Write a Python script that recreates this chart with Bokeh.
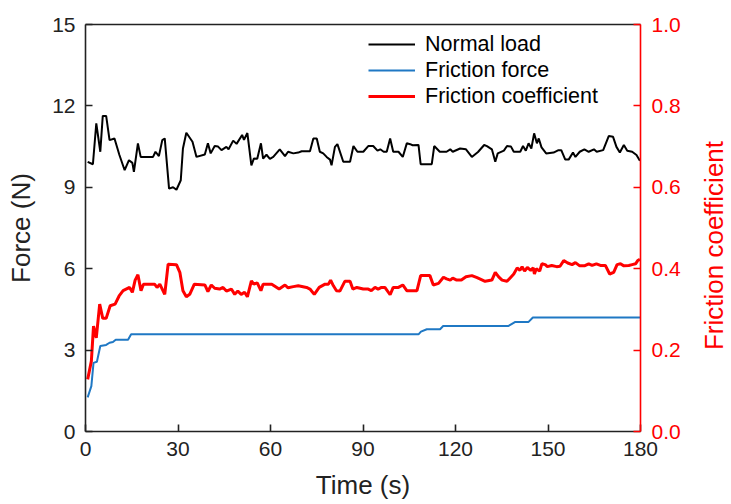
import math
from bokeh.plotting import figure
from bokeh.models import (Range1d, LinearAxis, Legend, LegendItem, FixedTicker,
                          PrintfTickFormatter, Label)
from bokeh.embed import file_html
from bokeh.resources import INLINE

# ---------------- data ----------------
time_ticks = [0, 30, 60, 90, 120, 150, 180]
force_ticks = [0, 3, 6, 9, 12, 15]
coef_ticks = [0.0, 0.2, 0.4, 0.6, 0.8, 1.0]

t_load = [0.7, 2.4, 3.5, 4.8, 5.6, 6.7, 7.8, 9.4, 11.0, 12.7,
          14.1, 15.2, 15.7, 17.0, 17.9, 21.9, 22.7, 23.8, 24.9, 25.7,
          27.1, 28.4, 29.5, 30.9, 31.6, 32.7, 34.7, 36.0, 38.7, 39.7,
          40.6, 41.9, 43.0, 44.1, 45.7, 46.4, 47.9, 49.0, 50.8, 51.4,
          52.5, 53.8, 54.6, 55.7, 56.9, 57.6, 58.7, 59.8, 60.9, 63.0,
          64.7, 65.7, 67.4, 69.0, 70.1, 72.8, 73.9, 75.0, 76.0, 77.1,
          78.2, 79.3, 79.8, 80.9, 81.7, 83.6, 85.8, 86.9, 88.2, 90.1,
          91.7, 93.3, 94.7, 95.6, 96.7, 97.7, 98.8, 99.8, 101.5, 102.9,
          104.2, 105.3, 106.1, 108.0, 108.7, 112.3, 113.1, 114.9, 117.1, 118.3,
          119.1, 121.5, 123.4, 125.3, 127.3, 129.3, 130.2, 131.8, 132.9, 133.7,
          135.7, 136.7, 138.0, 138.9, 141.0, 141.9, 142.8, 143.7, 144.6, 145.5,
          146.4, 147.0, 147.9, 149.4, 151.8, 153.4, 154.3, 155.6, 156.7, 158.1,
          158.9, 160.3, 161.8, 163.2, 164.9, 165.8, 167.9, 169.7, 171.1, 172.2,
          173.3, 174.6, 175.7, 177.3, 178.7, 179.8]
normal_load = [9.94, 9.85, 11.36, 10.31, 11.63, 11.63, 10.74, 10.80, 10.19, 9.63,
               10.0, 9.9, 9.57, 10.62, 10.12, 10.12, 10.31, 10.15, 10.74, 10.80,
               8.95, 9.0, 8.91, 9.26, 10.43, 11.01, 10.68, 10.12, 10.21, 10.62,
               10.25, 10.52, 10.5, 10.37, 10.49, 10.4, 10.72, 10.6, 10.93, 10.75,
               11.0, 9.81, 10.06, 10.05, 10.62, 10.06, 10.2, 10.05, 10.12, 10.4,
               10.15, 10.31, 10.25, 10.28, 10.33, 10.33, 10.8, 10.8, 10.31, 10.25,
               10.12, 10.02, 9.81, 10.49, 10.59, 9.94, 9.94, 10.52, 10.31, 10.31,
               10.52, 10.52, 10.35, 10.4, 10.31, 10.31, 10.8, 10.31, 10.31, 10.12,
               10.62, 10.59, 10.55, 10.56, 9.85, 9.85, 10.52, 10.31, 10.31, 10.4,
               10.31, 10.43, 10.4, 10.12, 10.3, 10.56, 10.52, 10.4, 9.94, 10.25,
               10.35, 10.52, 10.5, 10.31, 10.31, 10.52, 10.35, 10.62, 10.43, 10.99,
               10.62, 10.8, 10.47, 10.25, 10.28, 10.37, 10.37, 10.02, 10.02, 10.28,
               10.12, 10.31, 10.4, 10.31, 10.4, 10.31, 10.37, 10.89, 10.86, 10.49,
               10.28, 10.56, 10.35, 10.31, 10.19, 9.98]

t_friction = [0.7, 1.9, 2.6, 3.7, 4.8, 6.7, 7.8, 8.9, 9.8, 13.8,
              14.8, 108.0, 108.8, 110.7, 115.0, 116.0, 137.2, 139.4, 143.7, 145.1,
              180.0]
friction_force = [1.26, 1.67, 2.53, 2.57, 3.15, 3.19, 3.27, 3.30, 3.38, 3.38,
                  3.58, 3.58, 3.68, 3.77, 3.77, 3.89, 3.89, 4.04, 4.04, 4.20,
                  4.20]

t_coef = [0.7, 1.9, 2.6, 3.5, 4.6, 5.6, 6.7, 8.0, 9.6, 10.9,
          12.2, 14.3, 15.2, 16.1, 17.0, 18.0, 18.8, 22.4, 23.2, 24.1,
          25.7, 26.8, 29.5, 30.6, 31.6, 32.7, 33.8, 35.3, 38.7, 39.7,
          40.8, 41.9, 43.5, 44.6, 45.7, 47.3, 48.4, 49.4, 50.5, 51.6,
          52.5, 53.8, 54.6, 55.7, 56.9, 57.6, 60.4, 62.8, 64.7, 65.7,
          67.4, 69.0, 71.7, 72.8, 74.2, 75.8, 77.7, 78.8, 79.5, 80.4,
          81.4, 82.5, 84.1, 85.8, 86.7, 88.0, 90.1, 91.7, 92.7, 93.9,
          94.9, 96.0, 97.1, 98.8, 99.8, 101.5, 102.9, 104.2, 107.5, 108.7,
          111.7, 112.8, 114.5, 116.1, 117.1, 118.3, 119.1, 120.4, 121.9, 123.4,
          125.3, 127.0, 129.6, 131.8, 132.9, 134.0, 135.1, 136.7, 137.8, 138.9,
          140.0, 140.9, 141.6, 142.4, 143.3, 144.4, 145.2, 145.6, 146.2, 147.3,
          148.0, 149.1, 149.8, 151.2, 152.8, 153.9, 155.1, 156.4, 157.8, 158.9,
          160.3, 161.8, 163.2, 164.3, 165.7, 167.0, 168.6, 170.0, 171.3, 172.4,
          173.5, 174.6, 176.2, 177.3, 178.4, 179.1, 179.8]
friction_coef = [0.128, 0.173, 0.259, 0.230, 0.313, 0.278, 0.278, 0.309, 0.313, 0.333,
                 0.346, 0.354, 0.342, 0.372, 0.385, 0.346, 0.362, 0.362, 0.354, 0.362,
                 0.337, 0.411, 0.410, 0.391, 0.346, 0.331, 0.337, 0.362, 0.360, 0.344,
                 0.360, 0.352, 0.350, 0.354, 0.345, 0.350, 0.337, 0.345, 0.337, 0.342,
                 0.331, 0.370, 0.362, 0.365, 0.346, 0.362, 0.362, 0.350, 0.360, 0.353,
                 0.356, 0.358, 0.354, 0.350, 0.337, 0.354, 0.362, 0.362, 0.372, 0.358,
                 0.346, 0.345, 0.369, 0.369, 0.350, 0.354, 0.350, 0.350, 0.346, 0.354,
                 0.350, 0.354, 0.354, 0.336, 0.354, 0.354, 0.360, 0.346, 0.346, 0.383,
                 0.383, 0.360, 0.364, 0.379, 0.375, 0.372, 0.377, 0.372, 0.372, 0.380,
                 0.383, 0.378, 0.369, 0.372, 0.391, 0.380, 0.372, 0.369, 0.378, 0.387,
                 0.402, 0.396, 0.405, 0.394, 0.403, 0.396, 0.402, 0.387, 0.400, 0.394,
                 0.412, 0.410, 0.405, 0.408, 0.405, 0.406, 0.420, 0.414, 0.410, 0.415,
                 0.407, 0.407, 0.412, 0.408, 0.412, 0.408, 0.408, 0.387, 0.391, 0.410,
                 0.412, 0.407, 0.408, 0.410, 0.412, 0.420, 0.423]

# ---------------- figure ----------------
FONT = "Liberation Sans"
AX = "#222222"
RED = "#ff0000"
BLUE = "#1f78c4"

p = figure(width=731, height=504, output_backend="svg", toolbar_location=None,
           x_range=Range1d(0, 180), y_range=Range1d(0, 15),
           min_border_left=85, min_border_right=91, min_border_top=24,
           min_border_bottom=73)
p.extra_y_ranges = {"mu": Range1d(0, 1)}
p.grid.visible = False
p.outline_line_color = None
p.background_fill_color = "white"
p.border_fill_color = "white"

def style(ax, color, ticks):
    ax.ticker = FixedTicker(ticks=ticks)
    ax.axis_line_color = color
    ax.axis_line_width = 1.6
    ax.major_tick_line_color = color
    ax.major_tick_line_width = 1.6
    ax.major_tick_in = 7
    ax.major_tick_out = 0
    ax.minor_tick_line_color = None
    ax.major_label_text_font = FONT
    ax.major_label_text_font_size = "21px"
    ax.major_label_text_color = color
    ax.axis_label_text_font = FONT
    ax.axis_label_text_font_size = "26px"
    ax.axis_label_text_font_style = "normal"
    ax.axis_label_text_color = color

xa = p.xaxis[0]
style(xa, AX, time_ticks)
xa.axis_label = "Time (s)"
xa.major_label_standoff = 10
xa.axis_label_standoff = 11

ya = p.yaxis[0]
style(ya, AX, force_ticks)
ya.axis_label = "Force (N)"
ya.major_label_standoff = 10
ya.axis_label_standoff = 13

ra = LinearAxis(y_range_name="mu")
style(ra, RED, coef_ticks)
ra.formatter = PrintfTickFormatter(format="%.1f")
ra.major_label_standoff = 11
p.add_layout(ra, "right")

# right-hand axis title, reading bottom-to-top like the left one
coef_title = Label(x=30, y=186, x_units="screen", y_units="screen",
                   text="Friction coefficient", angle=90, angle_units="deg",
                   text_align="center", text_baseline="middle",
                   text_font=FONT, text_font_size="26px", text_color=RED)
p.add_layout(coef_title, "right")

ta = LinearAxis()
ta.axis_line_color = AX
ta.axis_line_width = 1.6
ta.major_tick_line_color = None
ta.minor_tick_line_color = None
ta.major_label_text_font_size = "0px"
ta.major_label_text_color = None
p.add_layout(ta, "above")

r_load = p.line(t_load, normal_load, line_color="black", line_width=2)
r_ff = p.line(t_friction, friction_force, line_color=BLUE, line_width=2)
r_mu = p.line(t_coef, friction_coef, line_color=RED, line_width=3, y_range_name="mu")

legend = Legend(items=[LegendItem(label="Normal load", renderers=[r_load]),
                       LegendItem(label="Friction force", renderers=[r_ff]),
                       LegendItem(label="Friction coefficient", renderers=[r_mu])],
                location=(283, 322))
legend.border_line_color = None
legend.background_fill_alpha = 0
legend.label_text_font = FONT
legend.label_text_font_size = "21.5px"
legend.label_text_color = "black"
legend.glyph_width = 47
legend.glyph_height = 26
legend.label_height = 26
legend.label_standoff = 10
legend.spacing = 0
legend.padding = 0
legend.margin = 0
p.add_layout(legend, "center")

open("out.html", "w").write(file_html(p, INLINE))
